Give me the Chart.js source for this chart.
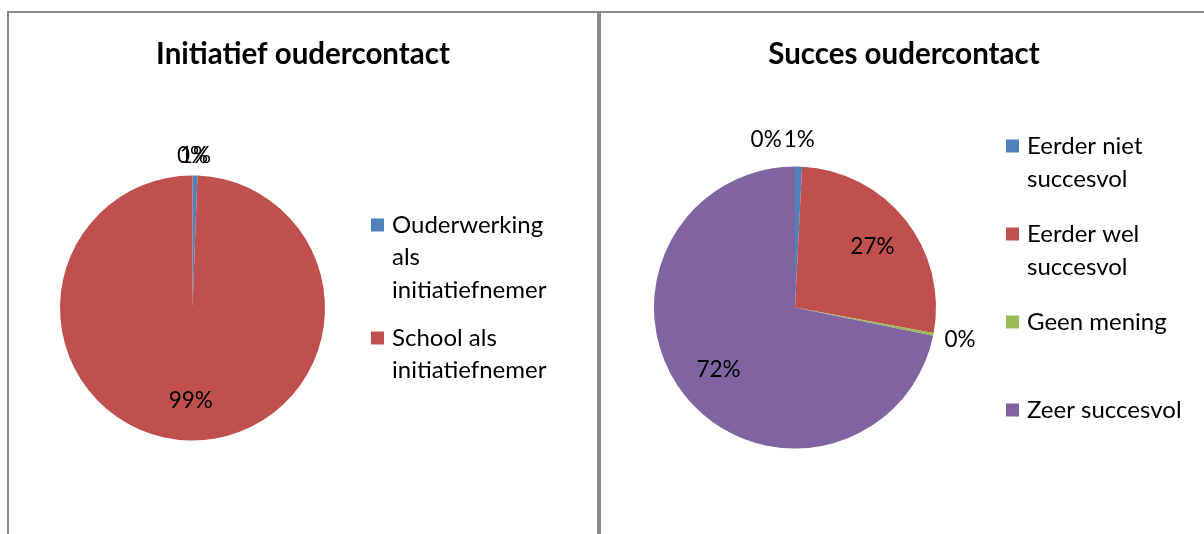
<!DOCTYPE html>
<html>
<head>
<meta charset="utf-8">
<script src="https://cdn.jsdelivr.net/npm/chart.js@4.4.0/dist/chart.umd.min.js"></script>
<style>
  html, body { margin: 0; padding: 0; background: #fff; overflow: hidden; }
  body { width: 1204px; height: 534px; position: relative; }
  .box { position: absolute; top: 11px; border-top: 2px solid #8a8a8a; border-left: 2px solid #8a8a8a; }
  #boxLeft { left: 7px; width: 588px; height: 521px; border-right: 2px solid #8a8a8a; }
  #boxRight { left: 599px; width: 606px; height: 521px; }
  canvas { display: block; }
</style>
</head>
<body>
<div class="box" id="boxLeft"><canvas id="initiatiefChart" width="588" height="521"></canvas></div>
<div class="box" id="boxRight"><canvas id="succesChart" width="606" height="521"></canvas></div>
<script>
const initiatiefLabels = ['Ouderwerking als initiatiefnemer', 'School als initiatiefnemer', ''];
const initiatiefData = [0.6, 99.4, 0];

const succesLabels = ['Eerder niet succesvol', 'Eerder wel succesvol', 'Geen mening', 'Zeer succesvol', ''];
const succesData = [0.8, 27.1, 0.3, 71.8, 0];

const blue = '#4f81bd', red = '#c0504d', green = '#9bbb59', purple = '#8064a2';
const FONT = 'Lato, "Open Sans", sans-serif';

// title, data labels and wrapped legend drawn the way Excel lays them out
const excelPie = {
  id: 'excelPie',
  afterDraw(chart, args, opts) {
    const ctx = chart.ctx;
    const meta = chart.getDatasetMeta(0);
    const data = chart.data.datasets[0].data;
    const total = data.reduce((a, b) => a + b, 0);
    ctx.save();
    ctx.fillStyle = '#000';

    // title
    ctx.font = 'bold ' + opts.titleSize + 'px ' + FONT;
    ctx.textAlign = 'center';
    ctx.textBaseline = 'middle';
    ctx.fillText(opts.title, chart.width / 2, opts.titleY);

    // data labels
    ctx.font = opts.labelSize + 'px ' + FONT;
    const placed = [];
    meta.data.forEach((arc, i) => {
      const pct = data[i] / total;
      const text = Math.round(pct * 100) + '%';
      const mid = (arc.startAngle + arc.endAngle) / 2;
      const w = ctx.measureText(text).width;
      let x, y;
      if (pct > 0.05) {
        x = arc.x + Math.cos(mid) * arc.outerRadius * 0.7;
        y = arc.y + Math.sin(mid) * arc.outerRadius * 0.7;
      } else {
        const d = arc.outerRadius + opts.outside;
        x = arc.x + Math.cos(mid) * d;
        y = arc.y + Math.sin(mid) * d;
        if (opts.separate) {
          placed.forEach(p => {
            if (Math.abs(p.y - y) < 20 && Math.abs(p.x - x) < (p.w + w) / 2) {
              x = Math.cos(mid) < 0.001 && mid > Math.PI ? p.x - (p.w + w) / 2 - 2 : p.x + (p.w + w) / 2 + 2;
            }
          });
        }
        placed.push({ x, y, w });
      }
      ctx.fillText(text, x, y);
    });

    // legend with word wrap
    ctx.font = opts.legendSize + 'px ' + FONT;
    ctx.textAlign = 'left';
    let y = opts.legendY;
    chart.data.labels.forEach((label, i) => {
      if (!label) return;
      const lines = [];
      let line = '';
      label.split(' ').forEach(word => {
        const test = line ? line + ' ' + word : word;
        if (line && ctx.measureText(test).width > opts.wrap) { lines.push(line); line = word; }
        else line = test;
      });
      lines.push(line);
      const sq = opts.square;
      ctx.fillStyle = chart.data.datasets[0].backgroundColor[i];
      ctx.fillRect(opts.legendX, y - sq / 2, sq, sq);
      ctx.fillStyle = '#000';
      lines.forEach((l, k) => ctx.fillText(l, opts.textX, y + k * opts.lineHeight));
      y += opts.step ? opts.step : lines.length * opts.lineHeight + opts.gap;
    });
    ctx.restore();
  }
};

function makePie(id, labels, values, colors, padding, pieOpts) {
  return new Chart(document.getElementById(id), {
    type: 'pie',
    data: {
      labels: labels,
      datasets: [{ data: values, backgroundColor: colors, borderWidth: 0, hoverOffset: 0, offset: 0 }]
    },
    options: {
      responsive: false,
      animation: false,
      events: [],
      layout: { padding: padding },
      plugins: {
        legend: { display: false },
        title: { display: false },
        tooltip: { enabled: false },
        excelPie: pieOpts
      }
    },
    plugins: [excelPie]
  });
}

makePie('initiatiefChart', initiatiefLabels, initiatiefData, [blue, red, purple],
  { left: 51, right: 272, top: 162.5, bottom: 93.5 },
  { title: 'Initiatief oudercontact', titleSize: 29.5, titleY: 41, labelSize: 22.5, outside: 20, separate: false,
    legendSize: 24, legendX: 362, textX: 383, legendY: 212, lineHeight: 32.5, gap: 15.5, wrap: 172, square: 13 });

makePie('succesChart', succesLabels, succesData, [blue, red, green, purple, blue],
  { left: 53, right: 271, top: 153.5, bottom: 85.5 },
  { title: 'Succes oudercontact', titleSize: 29.5, titleY: 41, labelSize: 22.5, outside: 27, separate: true,
    legendSize: 24, legendX: 405, textX: 426, legendY: 133, lineHeight: 33, step: 88, wrap: 172, square: 13 });
</script>
</body>
</html>
